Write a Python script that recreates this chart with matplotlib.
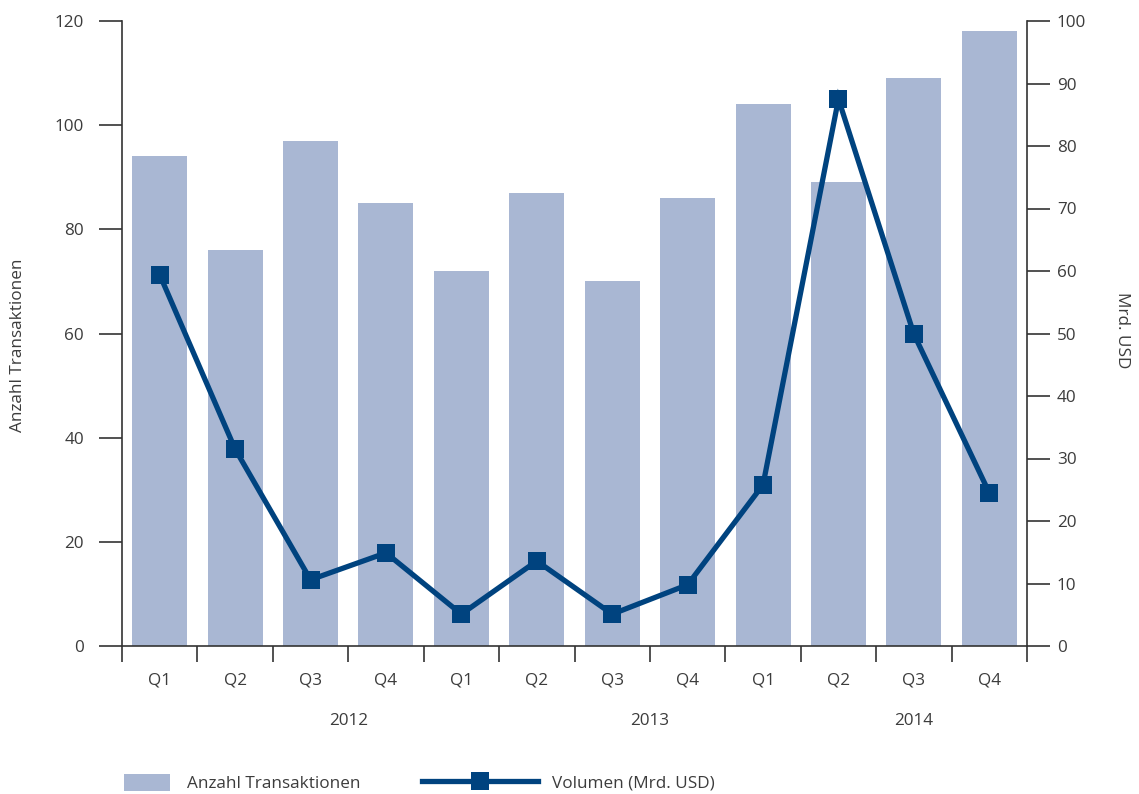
import matplotlib
matplotlib.use("Agg")
import matplotlib.pyplot as plt
from matplotlib.patches import Patch
from matplotlib.lines import Line2D
from matplotlib.ticker import FixedLocator, MultipleLocator

plt.rcParams["font.family"] = ["Open Sans", "DejaVu Sans"]

quarters = ["Q1", "Q2", "Q3", "Q4", "Q1", "Q2", "Q3", "Q4", "Q1", "Q2", "Q3", "Q4"]
years = ["2012", "2013", "2014"]
year_label_pos = [2.5, 6.5, 10.0]
deals = [94, 76, 97, 85, 72, 87, 70, 86, 104, 89, 109, 118]
volume = [59.4, 31.5, 10.6, 14.9, 5.1, 13.6, 5.1, 9.8, 25.8, 87.5, 49.9, 24.5]

bar_color = "#A9B7D3"
line_color = "#00437F"
text_color = "#3C3C3C"
axis_color = "#333333"

W, H, DPI = 1139, 794, 100
fig = plt.figure(figsize=(W / DPI, H / DPI), dpi=DPI)
ax = fig.add_axes([122 / W, 1 - 646 / H, (1027 - 122) / W, (646 - 21) / H])
ax2 = ax.twinx()

x = list(range(len(quarters)))
ax.bar(x, deals, width=0.73, color=bar_color, zorder=1)
ax2.plot(x, volume, color=line_color, lw=3.8, marker="s", ms=12.5,
         markeredgewidth=0, solid_joinstyle="miter", zorder=3)

ax.set_xlim(-0.5, len(quarters) - 0.5)
ax.set_ylim(0, 120)
ax2.set_ylim(0, 100)
ax.yaxis.set_major_locator(MultipleLocator(20))
ax2.yaxis.set_major_locator(MultipleLocator(10))

fs = 12.3
for a in (ax, ax2):
    a.spines["top"].set_visible(False)
    for s in ("left", "right", "bottom"):
        a.spines[s].set_color(axis_color)
        a.spines[s].set_linewidth(1.2)

ax.spines["right"].set_visible(False)
ax2.spines["left"].set_visible(False)
ax2.spines["bottom"].set_visible(False)

ax.tick_params(axis="y", direction="out", length=16.5, width=1.2, color=axis_color,
               pad=11, labelsize=fs, labelcolor=text_color)
ax2.tick_params(axis="y", direction="out", length=16.5, width=1.2, color=axis_color,
                pad=5, labelsize=fs, labelcolor=text_color)

# category labels at bar centres, separators at boundaries
ax.set_xticks(x)
ax.set_xticklabels(quarters)
ax.tick_params(axis="x", which="major", length=0, pad=19, labelsize=fs, labelcolor=text_color)
ax.xaxis.set_minor_locator(FixedLocator([i - 0.5 for i in range(len(quarters) + 1)]))
ax.tick_params(axis="x", which="minor", direction="out", length=11.5, width=1.2, color=axis_color)

for yl, xp in zip(years, year_label_pos):
    ax.annotate(yl, xy=(xp, 0), xycoords=("data", "axes fraction"),
                xytext=(0, -54), textcoords="offset points",
                ha="center", va="center", fontsize=fs, color=text_color)

fig.text(18 / W, 1 - 345 / H, "Anzahl Transaktionen", rotation=90, ha="center", va="center",
         fontsize=fs, color=text_color)
fig.text(1122 / W, 1 - 330 / H, "Mrd. USD", rotation=270, ha="center", va="center",
         fontsize=fs, color=text_color)

fs_px = fs * DPI / 72
leg1 = fig.legend(handles=[Patch(facecolor=bar_color, edgecolor="none", label="Anzahl Transaktionen")],
                  loc="center left", bbox_to_anchor=(124 / W, 1 - 783 / H), frameon=False,
                  fontsize=fs, handlelength=46 / fs_px, handleheight=20 / fs_px,
                  handletextpad=17 / fs_px, borderpad=0, borderaxespad=0, labelcolor=text_color)
leg2 = fig.legend(handles=[Line2D([0], [0], color=line_color, lw=3.8, marker="s", ms=12.5,
                                  markeredgewidth=0, label="Volumen (Mrd. USD)")],
                  loc="center left", bbox_to_anchor=(422 / W, 1 - 783 / H), frameon=False,
                  fontsize=fs, handlelength=116 / fs_px, handletextpad=14 / fs_px,
                  borderpad=0, borderaxespad=0, labelcolor=text_color)

fig.savefig("out.png", dpi=DPI)
